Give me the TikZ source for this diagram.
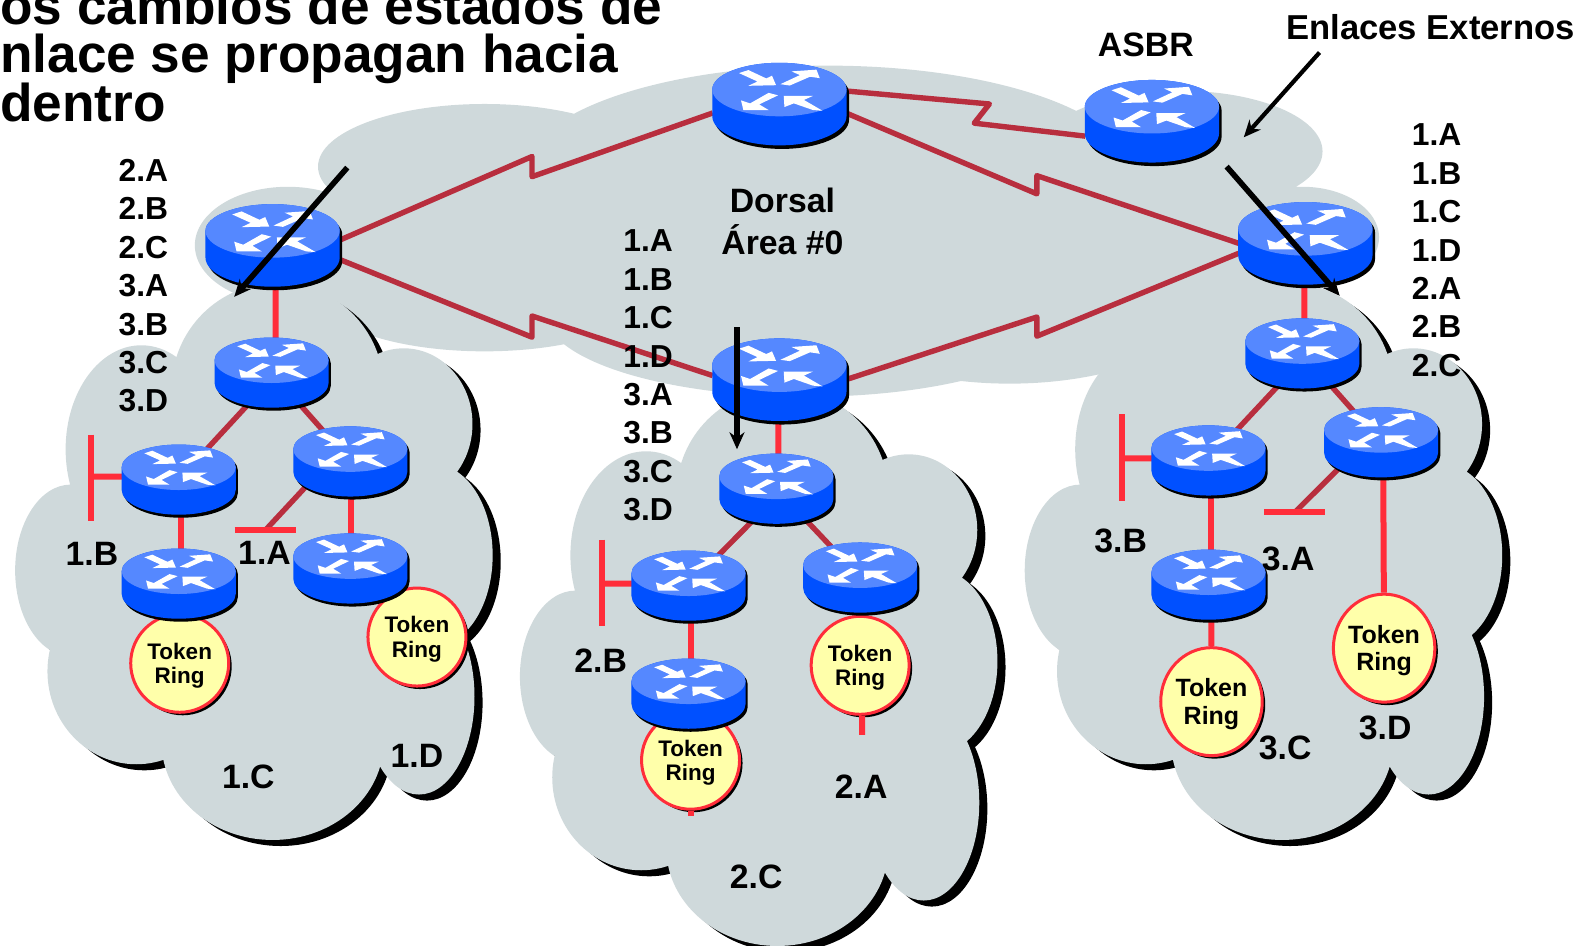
\documentclass[tikz,border=0pt]{standalone}
\usepackage{fontspec}
\setmainfont{Liberation Sans}
\usetikzlibrary{shapes.geometric, shadows, arrows.meta}
\pgfdeclarelayer{clouds}
\pgfdeclarelayer{wires}
\pgfsetlayers{clouds,wires,main}
\definecolor{cloudgray}{HTML}{CFD9DB}
\definecolor{routertop}{HTML}{5588FF}
\definecolor{routerbody}{HTML}{0050FF}
\definecolor{linkbrick}{HTML}{B82E3E}
\definecolor{linkred}{HTML}{FF2D3A}
\definecolor{ringyellow}{HTML}{FFFFAA}
\begin{document}
\begin{tikzpicture}[x=1.0096pt, y=-1.0096pt]
	\tikzset{wan/.style={draw=linkbrick, line width=5.4pt, line join=round}}
	\tikzset{lan/.style={draw=linkred, line width=6pt}}
	\tikzset{routerbox/.style={ellipse, transform shape, inner sep=0pt, minimum width=133pt, minimum height=83pt}}
	\tikzset{tokenring/.style={ellipse, draw=linkred, line width=3pt, fill=ringyellow, inner sep=0pt, align=center, text depth=-8pt,
		general shadow={fill=black, shadow xshift=3pt, shadow yshift=-3pt}}}
	\tikzset{ringsmall/.style={tokenring, minimum width=98pt, minimum height=98pt, font=\bfseries\fontsize{22.5}{24.5}\selectfont}}
	\tikzset{ringbig/.style={tokenring, minimum width=98pt, minimum height=108pt, font=\bfseries\fontsize{25}{27.5}\selectfont}}
	\tikzset{hop/.style={font=\bfseries\fontsize{33.8}{38}\selectfont}}
	\tikzset{hoplist/.style={align=left, inner sep=0pt, font=\bfseries\fontsize{31.8}{38.4}\selectfont}}
	\tikzset{titleline/.style={anchor=base west, inner sep=0pt, font=\bfseries\fontsize{53.2}{53.2}\selectfont}}
	\tikzset{flood/.style={draw=black, line width=5.6pt, -{Stealth[length=17pt, width=15pt]}}}
	\tikzset{cloudlobes/.style={insert path={
		(275,385) ellipse [x radius=105, y radius=105]
		(140,445) ellipse [x radius=75, y radius=103]
		(70,565) ellipse [x radius=55, y radius=85]
		(135,665) ellipse [x radius=88, y radius=92]
		(270,735) ellipse [x radius=110, y radius=97]
		(415,690) ellipse [x radius=55, y radius=97]
		(430,550) ellipse [x radius=58, y radius=90]
		(400,420) ellipse [x radius=68, y radius=75]
		(270,560) ellipse [x radius=175, y radius=190]}}}
	\tikzset{areacloud/.pic={
		\path[fill=black, shift={(8,6)}, cloudlobes];
		\path[fill=cloudgray, cloudlobes];}}
	\tikzset{router/.pic={
		\fill[black, shift={(2.5,3.5)}] (-66.5,-14.3) arc [start angle=180, end angle=360, x radius=66.5, y radius=26.5]
			-- (66.5,12) arc [start angle=0, end angle=180, x radius=66.5, y radius=29] -- cycle;
		\fill[routerbody] (-66.5,-14.3) arc [start angle=180, end angle=360, x radius=66.5, y radius=26.5]
			-- (66.5,12) arc [start angle=0, end angle=180, x radius=66.5, y radius=29] -- cycle;
		\fill[routertop] (0,-14.3) ellipse [x radius=66.5, y radius=26.5];
		\begin{scope}[shift={(0,-14.3)}]
			\fill[white] (-40,-16.3) -- (-30.7,-19.3) -- (-13,-11) -- (-7.3,-13.7) -- (-3.3,-4.3) -- (-30.7,-3.7) -- (-21.7,-8) -- cycle;
			\fill[white] (1,-5.3) -- (20.3,-14.3) -- (12,-18) -- (36.7,-19.7) -- (40,-11.3) -- (30.3,-12.7) -- (10.3,-4) -- cycle;
			\fill[white] (-10.7,3.3) -- (-1.3,5.7) -- (-20,14.7) -- (-10.7,20.3) -- (-35.7,20.3) -- (-38,10.7) -- (-29,13.7) -- cycle;
			\fill[white] (4.3,6.3) -- (33.3,6.3) -- (24.3,10.3) -- (42.7,21) -- (33.3,20.3) -- (14.3,13.7) -- (5,17.3) -- cycle;
		\end{scope}
		\node[routerbox] (-c) at (0,0) {};}}

	\useasboundingbox (0,0) rectangle (1568,937);

	% clouds
	\begin{pgfonlayer}{clouds}
		\path[fill=cloudgray]
			(285,243) ellipse [x radius=92, y radius=58]
			(480,165) ellipse [x radius=165, y radius=62]
			(480,290) ellipse [x radius=165, y radius=58]
			(800,310) ellipse [x radius=260, y radius=83]
			(820,170) ellipse [x radius=300, y radius=105]
			(1170,150) ellipse [x radius=140, y radius=60]
			(1290,235) ellipse [x radius=76, y radius=50]
			(1000,260) ellipse [x radius=230, y radius=120]
			(1150,270) ellipse [x radius=130, y radius=80]
			(1180,310) ellipse [x radius=90, y radius=50]
			(1200,210) ellipse [x radius=60, y radius=50]
			(500,230) ellipse [x radius=200, y radius=90];
		\pic at (0,0) {areacloud};
		\pic at (500,105) {areacloud};
		\pic at (1000,0) {areacloud};
	\end{pgfonlayer}

	% routers
	\pic (rtop) at (772,103) {router};
	\pic (rasbr) at (1141,120) {router};
	\pic (rleft) at (270,243) {router};
	\pic (rright) at (1293,241) {router};
	\pic (rmid) at (772,376) {router};

	\pic[scale=.85] (la) at (269,369) {router};
	\pic[scale=.85] (lb) at (177,475) {router};
	\pic[scale=.85] (lc) at (347,457) {router};
	\pic[scale=.85] (ld) at (177,578) {router};
	\pic[scale=.85] (le) at (347,563) {router};

	\pic[scale=.85] (ca) at (769,484) {router};
	\pic[scale=.85] (cb) at (682,580) {router};
	\pic[scale=.85] (cc) at (852,572) {router};
	\pic[scale=.85] (cd) at (682,687) {router};

	\pic[scale=.85] (ra) at (1290,350) {router};
	\pic[scale=.85] (rb) at (1197,456) {router};
	\pic[scale=.85] (rc) at (1368,438) {router};
	\pic[scale=.85] (rd) at (1197,579) {router};

	% free ends
	\coordinate (stublb) at (90,472);
	\coordinate (stublc) at (263,525);
	\coordinate (stubcb) at (596,578);
	\coordinate (stubrb) at (1111,454);
	\coordinate (stubrc) at (1283,507);
	\coordinate (tailtc1) at (684,808);
	\coordinate (tailtc2) at (854,728);

	\begin{pgfonlayer}{wires}
		% token rings
		\node[ringsmall] (tl1) at (178,657) {Token\\Ring};
		\node[ringsmall] (tl2) at (413,631) {Token\\Ring};
		\node[ringsmall] (tc1) at (684,753) {Token\\Ring};
		\node[ringsmall] (tc2) at (852,659) {Token\\Ring};
		\node[ringbig] (tr1) at (1200,695) {Token\\Ring};
		\node[ringbig] (tr2) at (1371,642) {Token\\Ring};

		\draw[wan] ([yshift=5pt]rleft-c.east) -- (527,155) -- (527,175) -- ([yshift=-9pt]rtop-c.west);
		\draw[wan] ([yshift=-14pt]rleft-c.east) -- (527,334) -- (527,313) -- ([yshift=4pt]rmid-c.west);
		\draw[wan] ([yshift=-9pt]rtop-c.east) -- (1027,192) -- (1027,174) -- (rright-c.west);
		\draw[wan] (rmid-c.east) -- (1027,314) -- (1027,333) -- ([yshift=-10pt]rright-c.west);
		\draw[wan] ([yshift=13pt]rtop-c.east) -- (980,103) -- (965,122) -- ([yshift=-15pt]rasbr-c.west);

		\draw[wan] ([xshift=6pt]la-c.center) -- (lb-c);
		\draw[wan] (la-c.center) -- (lc-c);
		\draw[wan] ([xshift=8pt]ca-c.center) -- (cb-c);
		\draw[wan] (ca-c.center) -- (cc-c);
		\draw[wan] ([xshift=6pt]ra-c.center) -- (rb-c);
		\draw[wan] (ra-c.center) -- (rc-c);
		\draw[wan] ([xshift=-21pt]lc-c.center) -- (stublc);
		\draw[wan] ([xshift=-16pt]rc-c.center) -- (stubrc);

		\draw[lan] ([xshift=3pt]rleft-c.center) -- ([xshift=4pt]la-c.center);
		\draw[lan] ([xshift=2pt]lb-c.center) -- ([xshift=2pt]ld-c.center);
		\draw[lan] ([xshift=1pt]lc-c.center) -- ([xshift=1pt]le-c.center);
		\draw[lan] ([xshift=2pt]ld-c.center) -- ([xshift=1pt]tl1.north);
		\draw[lan] ([yshift=3pt]lb-c.center) -- (stublb);
		\draw[lan] ([xshift=-1pt]rmid-c.center) -- ([xshift=2pt]ca-c.center);
		\draw[lan] ([xshift=2pt]cb-c.center) -- ([xshift=2pt]cd-c.center);
		\draw[lan] ([xshift=2pt]cd-c.center) -- (tc1);
		\draw[lan] ([yshift=2pt]cb-c.center) -- (stubcb);
		\draw[lan] (cc-c) -- (tc2);
		\draw[lan] (tc1) -- (tailtc1);
		\draw[lan] ([xshift=2pt]tc2.south) -- (tailtc2);
		\draw[lan] ([xshift=-1pt]rright-c.center) -- ([xshift=2pt]ra-c.center);
		\draw[lan] ([xshift=3pt]rb-c.center) -- ([xshift=3pt]rd-c.center);
		\draw[lan] ([xshift=3pt]rd-c.center) -- (tr1);
		\draw[lan] ([yshift=2pt]rb-c.center) -- (stubrb);
		\draw[lan] ([xshift=2pt]rc-c.center) -- (tr2);
	\end{pgfonlayer}

	\draw[lan] ([yshift=42pt]stublb) -- ([yshift=-44pt]stublb);
	\draw[lan] ([xshift=-31pt]stublc) -- ([xshift=30pt]stublc);
	\draw[lan] ([yshift=44pt]stubcb) -- ([yshift=-42pt]stubcb);
	\draw[lan] ([yshift=44pt]stubrb) -- ([yshift=-43pt]stubrb);
	\draw[lan] ([xshift=-31pt]stubrc) -- ([xshift=30pt]stubrc);

	% text
	\node[titleline] (title1) at (0,24) {os cambios de estados de};
	\node[titleline] (title2) at (0,72) {nlace se propagan hacia};
	\node[titleline] (title3) at (0,120) {dentro};

	\node[hop] (asbrtext) at (1135,44) {ASBR};
	\node[hop, font=\bfseries\fontsize{34.6}{38}\selectfont] (exttext) at (1417,27) {Enlaces Externos};
	\node[hop, align=center, font=\bfseries\fontsize{33.8}{42}\selectfont] (dorsal) at (775,219) {Dorsal\\Área \#0};

	\node[hoplist] (listleft) at (142,283) {2.A\\2.B\\2.C\\3.A\\3.B\\3.C\\3.D};
	\node[hoplist] (listmid) at (642,372) {1.A\\1.B\\1.C\\1.D\\3.A\\3.B\\3.C\\3.D};
	\node[hoplist] (listright) at (1423,248) {1.A\\1.B\\1.C\\1.D\\2.A\\2.B\\2.C};

	\node[hop] (n1b) at (91,549) {1.B};
	\node[hop] (n1a) at (262,548) {1.A};
	\node[hop] (n1c) at (246,769) {1.C};
	\node[hop] (n1d) at (413,749) {1.D};
	\node[hop] (n2b) at (595,654) {2.B};
	\node[hop] (n2a) at (853,779) {2.A};
	\node[hop] (n2c) at (749,869) {2.C};
	\node[hop] (n3b) at (1110,536) {3.B};
	\node[hop] (n3a) at (1276,554) {3.A};
	\node[hop] (n3c) at (1273,741) {3.C};
	\node[hop] (n3d) at (1372,721) {3.D};

	% arrows
	\coordinate (fromleft) at (344,166);
	\coordinate (toleft) at (232,294);
	\coordinate (frommid) at (730,324);
	\coordinate (tomid) at (730,445);
	\coordinate (fromright) at (1215,165);
	\coordinate (toright) at (1327,293);
	\coordinate (fromext) at (1307,52);
	\coordinate (toext) at (1232,136);
	\draw[flood] (fromleft) -- (toleft);
	\draw[flood] (frommid) -- (tomid);
	\draw[flood] (fromright) -- (toright);
	\draw[flood, line width=4.2pt] (fromext) -- (toext);
\end{tikzpicture}
\end{document}
